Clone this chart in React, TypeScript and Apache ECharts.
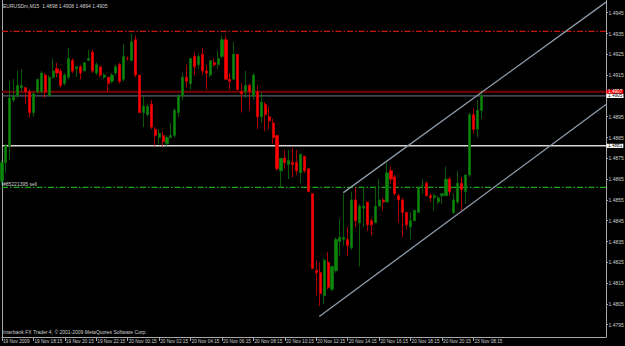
import React, { useEffect, useRef } from 'react';
import * as echarts from 'echarts';

const headerText = 'EURUSDm,M15  1.4898 1.4908 1.4894 1.4905';
const footerText = 'Interbank FX Trader 4, \u00A9 2001-2009 MetaQuotes Software Corp.';

const opens = [
  1.4864, 1.4873, 1.4881, 1.4903, 1.4905, 1.4909, 1.4909, 1.4907, 1.4897, 1.4907,
  1.4907, 1.4915, 1.4905, 1.4914, 1.4918, 1.4917, 1.4911, 1.4914, 1.4922, 1.4918,
  1.4919, 1.4917, 1.4922, 1.4926, 1.4916, 1.4919, 1.4914, 1.4914, 1.4912, 1.4916,
  1.4920, 1.4913, 1.4923, 1.4922, 1.4932, 1.4915, 1.4897, 1.4896, 1.4901, 1.4889,
  1.4885, 1.4886, 1.4882, 1.4885, 1.4886, 1.4897, 1.4905, 1.4914, 1.4911, 1.4924,
  1.4920, 1.4925, 1.4917, 1.4915, 1.4921, 1.4920, 1.4924, 1.4932, 1.4913, 1.4913,
  1.4925, 1.4907, 1.4907, 1.4910, 1.4905, 1.4907, 1.4895, 1.4901, 1.4895, 1.4892,
  1.4886, 1.4869, 1.4875, 1.4872, 1.4873, 1.4873, 1.4868, 1.4876, 1.4870, 1.4858,
  1.4821, 1.4820, 1.4809, 1.4825, 1.4812, 1.4821, 1.4835, 1.4836, 1.4836, 1.4832,
  1.4855, 1.4844, 1.4851, 1.4854, 1.4845, 1.4844, 1.4852, 1.4855, 1.4854, 1.4869,
  1.4866, 1.4857, 1.4855, 1.4849, 1.4842, 1.4845, 1.4849, 1.4862, 1.4863, 1.4857,
  1.4856, 1.4854, 1.4857, 1.4857, 1.4865, 1.4849, 1.4854, 1.4863, 1.4859, 1.4867,
  1.4896, 1.4889, 1.4898,
];
const highs = [
  1.4874, 1.4882, 1.4912, 1.4913, 1.4917, 1.4918, 1.4909, 1.4908, 1.4907, 1.4913,
  1.4917, 1.4916, 1.4915, 1.4923, 1.4921, 1.4918, 1.4916, 1.4928, 1.4923, 1.4919,
  1.4920, 1.4921, 1.4927, 1.4927, 1.4921, 1.4919, 1.4916, 1.4914, 1.4916, 1.4920,
  1.4921, 1.4930, 1.4924, 1.4935, 1.4934, 1.4915, 1.4905, 1.4901, 1.4903, 1.4890,
  1.4889, 1.4888, 1.4886, 1.4892, 1.4899, 1.4906, 1.4916, 1.4920, 1.4923, 1.4926,
  1.4925, 1.4928, 1.4920, 1.4922, 1.4923, 1.4927, 1.4934, 1.4934, 1.4916, 1.4931,
  1.4925, 1.4911, 1.4917, 1.4911, 1.4916, 1.4910, 1.4907, 1.4902, 1.4900, 1.4894,
  1.4886, 1.4875, 1.4879, 1.4879, 1.4880, 1.4879, 1.4877, 1.4876, 1.4870, 1.4858,
  1.4826, 1.4825, 1.4827, 1.4830, 1.4823, 1.4837, 1.4846, 1.4858, 1.4842, 1.4859,
  1.4861, 1.4853, 1.4861, 1.4854, 1.4846, 1.4861, 1.4865, 1.4856, 1.4873, 1.4871,
  1.4867, 1.4858, 1.4856, 1.4849, 1.4849, 1.4850, 1.4861, 1.4865, 1.4864, 1.4858,
  1.4858, 1.4857, 1.4858, 1.4871, 1.4866, 1.4858, 1.4869, 1.4866, 1.4867, 1.4897,
  1.4899, 1.4903, 1.4908,
];
const lows = [
  1.4862, 1.4868, 1.4874, 1.4902, 1.4904, 1.4907, 1.4901, 1.4895, 1.4895, 1.4906,
  1.4906, 1.4904, 1.4905, 1.4913, 1.4914, 1.4909, 1.4910, 1.4913, 1.4916, 1.4914,
  1.4913, 1.4917, 1.4922, 1.4916, 1.4915, 1.4914, 1.4913, 1.4907, 1.4911, 1.4915,
  1.4911, 1.4912, 1.4922, 1.4922, 1.4914, 1.4897, 1.4890, 1.4895, 1.4889, 1.4881,
  1.4882, 1.4881, 1.4881, 1.4885, 1.4885, 1.4895, 1.4903, 1.4909, 1.4908, 1.4915,
  1.4918, 1.4915, 1.4908, 1.4914, 1.4919, 1.4918, 1.4923, 1.4913, 1.4908, 1.4913,
  1.4908, 1.4897, 1.4904, 1.4898, 1.4903, 1.4889, 1.4892, 1.4888, 1.4889, 1.4882,
  1.4869, 1.4861, 1.4870, 1.4865, 1.4866, 1.4867, 1.4863, 1.4868, 1.4859, 1.4822,
  1.4809, 1.4804, 1.4805, 1.4812, 1.4811, 1.4820, 1.4828, 1.4833, 1.4828, 1.4831,
  1.4842, 1.4823, 1.4842, 1.4840, 1.4838, 1.4844, 1.4852, 1.4850, 1.4854, 1.4863,
  1.4857, 1.4844, 1.4837, 1.4841, 1.4836, 1.4845, 1.4849, 1.4858, 1.4857, 1.4854,
  1.4850, 1.4853, 1.4853, 1.4857, 1.4857, 1.4848, 1.4853, 1.4850, 1.4853, 1.4866,
  1.4887, 1.4885, 1.4894,
];
const closes = [
  1.4873, 1.4881, 1.4904, 1.4905, 1.4910, 1.4910, 1.4907, 1.4897, 1.4906, 1.4913,
  1.4916, 1.4907, 1.4914, 1.4917, 1.4916, 1.4910, 1.4915, 1.4923, 1.4917, 1.4919,
  1.4916, 1.4921, 1.4923, 1.4917, 1.4920, 1.4915, 1.4915, 1.4911, 1.4915, 1.4919,
  1.4912, 1.4924, 1.4923, 1.4931, 1.4915, 1.4897, 1.4900, 1.4900, 1.4890, 1.4886,
  1.4887, 1.4883, 1.4885, 1.4886, 1.4898, 1.4905, 1.4914, 1.4912, 1.4923, 1.4919,
  1.4924, 1.4917, 1.4916, 1.4922, 1.4920, 1.4923, 1.4932, 1.4913, 1.4912, 1.4925,
  1.4908, 1.4906, 1.4910, 1.4907, 1.4915, 1.4895, 1.4902, 1.4896, 1.4893, 1.4885,
  1.4870, 1.4875, 1.4873, 1.4874, 1.4872, 1.4869, 1.4877, 1.4869, 1.4859, 1.4822,
  1.4820, 1.4810, 1.4826, 1.4813, 1.4823, 1.4836, 1.4837, 1.4837, 1.4833, 1.4855,
  1.4845, 1.4852, 1.4852, 1.4843, 1.4843, 1.4852, 1.4855, 1.4854, 1.4868, 1.4865,
  1.4858, 1.4855, 1.4849, 1.4843, 1.4845, 1.4850, 1.4861, 1.4862, 1.4857, 1.4856,
  1.4857, 1.4856, 1.4858, 1.4865, 1.4859, 1.4855, 1.4863, 1.4860, 1.4867, 1.4896,
  1.4889, 1.4898, 1.4905,
];

const timeLabelBars = [0, 8, 16, 24, 32, 40, 48, 56, 64, 72, 80, 88, 96, 104, 112, 120];
const timeLabels = [
  '19 Nov 2009', '19 Nov 18:15', '19 Nov 20:15', '19 Nov 22:15', '20 Nov 00:15',
  '20 Nov 02:15', '20 Nov 04:15', '20 Nov 06:15', '20 Nov 08:15', '20 Nov 10:15',
  '20 Nov 12:15', '20 Nov 14:15', '20 Nov 16:15', '20 Nov 18:15', '20 Nov 20:15',
  '23 Nov 08:15',
];
const priceTicks = [
  1.4795, 1.4805, 1.4815, 1.4825, 1.4835, 1.4845, 1.4855, 1.4865,
  1.4875, 1.4885, 1.4895, 1.4905, 1.4915, 1.4925, 1.4935, 1.4945,
];

// channel drawn on the chart: [bar index, price]
const channelUpper = [[86.87, 1.48585], [153.73, 1.49501]];
const channelLower = [[80.76, 1.47989], [153.73, 1.49009]];

const askLevel = 1.4907;
const bidLevel = 1.4905;
const whiteLevel = 1.4881;
const redDashLevel = 1.4936;
const orderLevel = 1.4861;
const orderLabel = '#85221395 sell';

const X_MIN = 0;
const X_MAX = 153.73;
const Y_MIN = 1.478909;
const Y_MAX = 1.495111;

export default function App() {
  const ref = useRef<HTMLDivElement>(null);
  useEffect(() => {
    document.body.style.margin = '0';
    const chart = echarts.init(ref.current as HTMLDivElement, null, { renderer: 'svg' });
    const font = "'Liberation Sans', Arial, sans-serif";
    const fs = 5;
    const txt = '#cfcfcf';
    const frame = '#a8a8a8';
    const candleData = opens.map((o, i) => [i, o, closes[i], lows[i], highs[i]]);
    const levelLine = (level: number, color: string, width: number, type: any) => ({
      type: 'line',
      data: [[X_MIN, level], [X_MAX, level]],
      symbol: 'none',
      silent: true,
      z: 1,
      color,
      itemStyle: { color },
      lineStyle: { color, width, type, opacity: 1 },
    });
    const hidden = { color: 'rgba(0,0,0,0)', width: 1, opacity: 1 };
    const priceBox = (level: number, bg: string, fg: string) => ({
      yAxis: level,
      lineStyle: hidden,
      label: {
        show: true, position: 'end', distance: 0.5, formatter: level.toFixed(4), opacity: 1,
        color: fg, backgroundColor: bg, padding: [0, 1, 0, 1.5],
        fontSize: 4.7, fontFamily: font, lineHeight: 4.2,
      },
    });

    chart.setOption({
      animation: false,
      backgroundColor: '#000000',
      textStyle: { fontFamily: font },
      title: [
        {
          text: headerText, left: 3, top: 3, padding: 0,
          textStyle: { color: txt, fontSize: fs, fontWeight: 'normal', fontFamily: font },
        },
        {
          text: footerText, left: 3, top: 329.5, padding: 0,
          textStyle: { color: txt, fontSize: fs, fontWeight: 'normal', fontFamily: font },
        },
      ],
      grid: { left: 2, right: 19, top: 0, bottom: 9, show: false, outerBoundsMode: 'none' },
      xAxis: {
        type: 'value',
        min: X_MIN,
        max: X_MAX,
        axisLine: { show: true, onZero: false, lineStyle: { color: frame, width: 1 } },
        axisTick: { show: true, customValues: timeLabelBars, length: 4, lineStyle: { color: frame } },
        axisLabel: {
          customValues: timeLabelBars,
          showMinLabel: true,
          showMaxLabel: true,
          hideOverlap: false,
          formatter: (v: number) => {
            const i = timeLabelBars.indexOf(Math.round(v));
            return i >= 0 ? timeLabels[i] : '';
          },
          color: txt, fontSize: 4.7, fontFamily: font, align: 'left', margin: 1.5, padding: [0, 0, 0, 1],
        },
        splitLine: { show: false },
      },
      yAxis: [
        {
          type: 'value',
          position: 'right',
          min: Y_MIN,
          max: Y_MAX,
          axisLine: { show: true, onZero: false, lineStyle: { color: frame, width: 1 } },
          axisTick: { show: true, customValues: priceTicks, length: 2, lineStyle: { color: frame } },
          axisLabel: {
            customValues: priceTicks,
            showMinLabel: true,
            showMaxLabel: true,
            formatter: (v: number) => v.toFixed(4),
            color: txt, fontSize: fs, fontFamily: font, margin: 2.5,
          },
          splitLine: { show: false },
        },
        {
          type: 'value',
          position: 'left',
          min: Y_MIN,
          max: Y_MAX,
          axisLine: { show: true, onZero: false, lineStyle: { color: frame, width: 1 } },
          axisTick: { show: false },
          axisLabel: { show: false },
          splitLine: { show: false },
        },
      ],
      series: [
        levelLine(redDashLevel, '#c81616', 1.2, [6, 2, 1.5, 2]),
        levelLine(askLevel, '#780000', 2, 'solid'),
        levelLine(bidLevel, '#6b7a89', 1, 'solid'),
        levelLine(whiteLevel, '#d6d6d6', 1.5, 'solid'),
        levelLine(orderLevel, '#18a818', 1.2, [6, 2, 1.5, 2]),
        {
          type: 'candlestick',
          data: candleData,
          encode: { x: 0, y: [1, 2, 3, 4] },
          barWidth: 2.6,
          silent: true,
          z: 2,
          itemStyle: {
            color: '#0b870b',
            color0: '#ff0000',
            borderColor: '#0a700a',
            borderColor0: '#d80000',
            borderWidth: 0.8,
          },
          markLine: {
            silent: true,
            precision: 5,
            symbol: ['none', 'none'],
            animation: false,
            z: 5,
            data: [
              priceBox(askLevel, '#ff0000', '#ffffff'),
              priceBox(bidLevel, '#ffffff', '#000000'),
              priceBox(whiteLevel, '#ffffff', '#000000'),
              {
                yAxis: orderLevel,
                lineStyle: hidden,
                label: {
                  show: true, position: 'insideStartTop', distance: 1, formatter: orderLabel, opacity: 1,
                  color: txt, fontSize: fs, fontFamily: font,
                },
              },
            ],
          },
        },
        {
          type: 'line',
          data: channelUpper,
          symbol: 'none',
          silent: true,
          lineStyle: { color: '#8e9cab', width: 1.3 },
          z: 3,
        },
        {
          type: 'line',
          data: channelLower,
          symbol: 'none',
          silent: true,
          lineStyle: { color: '#8e9cab', width: 1.3 },
          z: 3,
        },
      ],
    });
    return () => chart.dispose();
  }, []);
  return <div ref={ref} style={{ position: 'absolute', left: 0, top: 0, width: 625, height: 346 }} />;
}
